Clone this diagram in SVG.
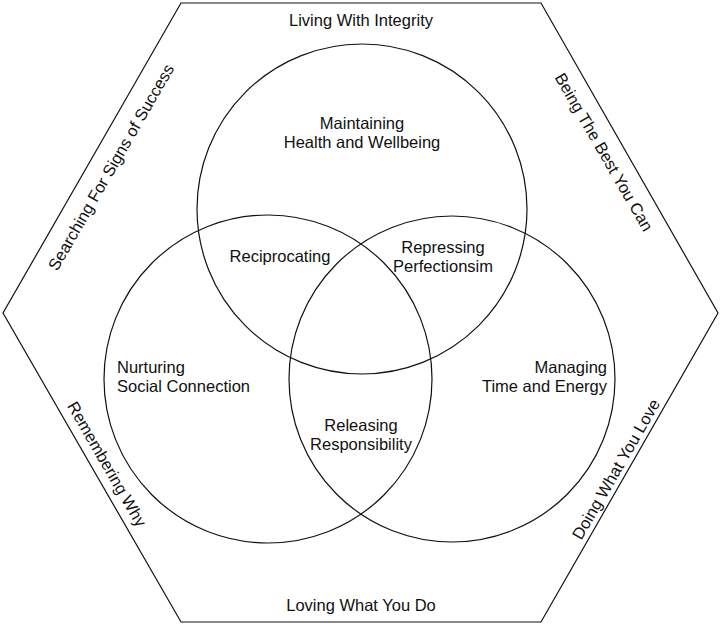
<svg xmlns="http://www.w3.org/2000/svg" width="722" height="626" viewBox="0 0 722 626">
<style>
.ln{fill:none;stroke:#111;stroke-width:1.2}
.t{font-family:"Liberation Sans",Arial,sans-serif;font-size:16.5px;fill:#111}
.m{text-anchor:middle}
.e{text-anchor:end}
</style>
<rect width="722" height="626" fill="#fff"/>
<g id="hexagon">
<polygon class="ln" points="181,3 541,3 718,313 541,622 181,622 3,313"/>
<text class="t m" x="361" y="26">Living With Integrity</text>
<text class="t m" x="361" y="611">Loving What You Do</text>
<text class="t m" transform="translate(116,170) rotate(-60)">Searching For Signs of Success</text>
<text class="t m" transform="translate(599,155) rotate(60)">Being The Best You Can</text>
<text class="t m" transform="translate(102,467) rotate(60)">Remembering Why</text>
<text class="t m" transform="translate(621,472) rotate(-60)">Doing What You Love</text>
</g>
<g id="circle-health">
<circle class="ln" cx="362" cy="209" r="165"/>
<text class="t m" x="362" y="129">Maintaining</text>
<text class="t m" x="362" y="148">Health and Wellbeing</text>
</g>
<g id="circle-social">
<circle class="ln" cx="268" cy="379" r="164"/>
<text class="t" x="117" y="373">Nurturing</text>
<text class="t" x="117" y="392">Social Connection</text>
</g>
<g id="circle-time">
<circle class="ln" cx="452" cy="379" r="163"/>
<text class="t e" x="607" y="373">Managing</text>
<text class="t e" x="607" y="392">Time and Energy</text>
</g>
<g id="overlap-reciprocating">
<text class="t m" x="280" y="262">Reciprocating</text>
</g>
<g id="overlap-perfectionism">
<text class="t m" x="443" y="253">Repressing</text>
<text class="t m" x="443" y="272">Perfectionsim</text>
</g>
<g id="overlap-responsibility">
<text class="t m" x="361" y="431">Releasing</text>
<text class="t m" x="361" y="450">Responsibility</text>
</g>
<g id="connectors"></g>
</svg>
